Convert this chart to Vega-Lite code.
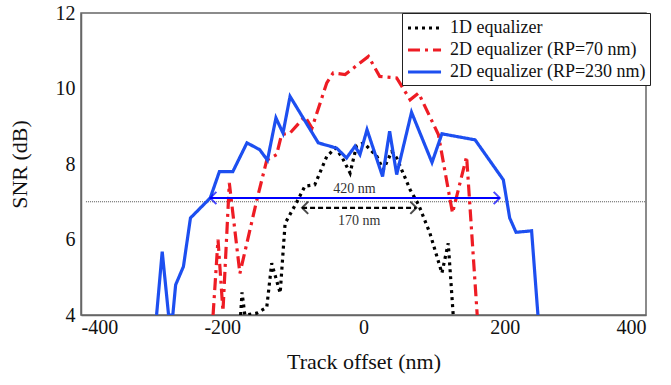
{
  "$schema": "https://vega.github.io/schema/vega-lite/v6.json",
  "autosize": "none",
  "width": 565,
  "height": 302,
  "padding": {"left": 81, "top": 13, "right": 25, "bottom": 70},
  "background": "white",
  "config": {
    "view": {"stroke": "#666", "strokeWidth": 1.5},
    "font": "Liberation Serif",
    "axis": {
      "labelFont": "Liberation Serif", "titleFont": "Liberation Serif",
      "labelColor": "#111", "titleColor": "#111", "titleFontWeight": "normal",
      "labelFontSize": 20, "titleFontSize": 22, "ticks": false, "grid": false,
      "domainColor": "#666", "domainWidth": 1.5
    },
    "legend": {"labelFont": "Liberation Serif", "labelFontSize": 18, "labelColor": "#111", "labelLimit": 0}
  },
  "datasets": {
    "snr": [
      {"s": "1D equalizer", "x": -174, "y": 4.0},
      {"s": "1D equalizer", "x": -172, "y": 4.6},
      {"s": "1D equalizer", "x": -168, "y": 4.0},
      {"s": "1D equalizer", "x": -151, "y": 4.05},
      {"s": "1D equalizer", "x": -137, "y": 4.2},
      {"s": "1D equalizer", "x": -130, "y": 5.37},
      {"s": "1D equalizer", "x": -118, "y": 4.58},
      {"s": "1D equalizer", "x": -111, "y": 6.43},
      {"s": "1D equalizer", "x": -95, "y": 6.97},
      {"s": "1D equalizer", "x": -83, "y": 7.41},
      {"s": "1D equalizer", "x": -69, "y": 7.45},
      {"s": "1D equalizer", "x": -52, "y": 8.2},
      {"s": "1D equalizer", "x": -40, "y": 8.42},
      {"s": "1D equalizer", "x": -31, "y": 8.2},
      {"s": "1D equalizer", "x": -19, "y": 7.76},
      {"s": "1D equalizer", "x": -10, "y": 8.47},
      {"s": "1D equalizer", "x": 0, "y": 8.56},
      {"s": "1D equalizer", "x": 19, "y": 8.2},
      {"s": "1D equalizer", "x": 28, "y": 7.85},
      {"s": "1D equalizer", "x": 40, "y": 8.33},
      {"s": "1D equalizer", "x": 47, "y": 8.16},
      {"s": "1D equalizer", "x": 66, "y": 7.32},
      {"s": "1D equalizer", "x": 78, "y": 6.92},
      {"s": "1D equalizer", "x": 94, "y": 6.17},
      {"s": "1D equalizer", "x": 111, "y": 5.11},
      {"s": "1D equalizer", "x": 120, "y": 5.9},
      {"s": "1D equalizer", "x": 127, "y": 4.0},
      {"s": "2D equalizer (RP=70 nm)", "x": -213, "y": 4.0},
      {"s": "2D equalizer (RP=70 nm)", "x": -206, "y": 6.0},
      {"s": "2D equalizer (RP=70 nm)", "x": -199, "y": 4.1},
      {"s": "2D equalizer (RP=70 nm)", "x": -190, "y": 7.5},
      {"s": "2D equalizer (RP=70 nm)", "x": -175, "y": 5.1},
      {"s": "2D equalizer (RP=70 nm)", "x": -151, "y": 7.05},
      {"s": "2D equalizer (RP=70 nm)", "x": -137, "y": 8.1},
      {"s": "2D equalizer (RP=70 nm)", "x": -123, "y": 8.25},
      {"s": "2D equalizer (RP=70 nm)", "x": -116, "y": 8.78},
      {"s": "2D equalizer (RP=70 nm)", "x": -104, "y": 8.82},
      {"s": "2D equalizer (RP=70 nm)", "x": -83, "y": 9.26},
      {"s": "2D equalizer (RP=70 nm)", "x": -73, "y": 8.95},
      {"s": "2D equalizer (RP=70 nm)", "x": -52, "y": 10.15},
      {"s": "2D equalizer (RP=70 nm)", "x": -43, "y": 10.41},
      {"s": "2D equalizer (RP=70 nm)", "x": -26, "y": 10.37},
      {"s": "2D equalizer (RP=70 nm)", "x": 7, "y": 10.85},
      {"s": "2D equalizer (RP=70 nm)", "x": 23, "y": 10.32},
      {"s": "2D equalizer (RP=70 nm)", "x": 47, "y": 10.28},
      {"s": "2D equalizer (RP=70 nm)", "x": 66, "y": 9.7},
      {"s": "2D equalizer (RP=70 nm)", "x": 78, "y": 9.88},
      {"s": "2D equalizer (RP=70 nm)", "x": 106, "y": 8.78},
      {"s": "2D equalizer (RP=70 nm)", "x": 126, "y": 6.7},
      {"s": "2D equalizer (RP=70 nm)", "x": 146, "y": 8.2},
      {"s": "2D equalizer (RP=70 nm)", "x": 161, "y": 4.0},
      {"s": "2D equalizer (RP=230 nm)", "x": -293, "y": 4.0},
      {"s": "2D equalizer (RP=230 nm)", "x": -285, "y": 5.68},
      {"s": "2D equalizer (RP=230 nm)", "x": -276, "y": 4.0},
      {"s": "2D equalizer (RP=230 nm)", "x": -270, "y": 4.0},
      {"s": "2D equalizer (RP=230 nm)", "x": -266, "y": 4.8},
      {"s": "2D equalizer (RP=230 nm)", "x": -255, "y": 5.28},
      {"s": "2D equalizer (RP=230 nm)", "x": -245, "y": 6.57},
      {"s": "2D equalizer (RP=230 nm)", "x": -217, "y": 7.1},
      {"s": "2D equalizer (RP=230 nm)", "x": -204, "y": 7.8},
      {"s": "2D equalizer (RP=230 nm)", "x": -185, "y": 7.8},
      {"s": "2D equalizer (RP=230 nm)", "x": -165, "y": 8.56},
      {"s": "2D equalizer (RP=230 nm)", "x": -147, "y": 8.38},
      {"s": "2D equalizer (RP=230 nm)", "x": -136, "y": 8.1},
      {"s": "2D equalizer (RP=230 nm)", "x": -124, "y": 9.22},
      {"s": "2D equalizer (RP=230 nm)", "x": -114, "y": 8.82},
      {"s": "2D equalizer (RP=230 nm)", "x": -104, "y": 9.79},
      {"s": "2D equalizer (RP=230 nm)", "x": -64, "y": 8.56},
      {"s": "2D equalizer (RP=230 nm)", "x": -38, "y": 8.42},
      {"s": "2D equalizer (RP=230 nm)", "x": -24, "y": 8.16},
      {"s": "2D equalizer (RP=230 nm)", "x": -12, "y": 8.47},
      {"s": "2D equalizer (RP=230 nm)", "x": -5, "y": 8.25},
      {"s": "2D equalizer (RP=230 nm)", "x": 5, "y": 8.91},
      {"s": "2D equalizer (RP=230 nm)", "x": 27, "y": 7.67},
      {"s": "2D equalizer (RP=230 nm)", "x": 37, "y": 8.87},
      {"s": "2D equalizer (RP=230 nm)", "x": 47, "y": 7.72},
      {"s": "2D equalizer (RP=230 nm)", "x": 68, "y": 9.37},
      {"s": "2D equalizer (RP=230 nm)", "x": 97, "y": 8.04},
      {"s": "2D equalizer (RP=230 nm)", "x": 111, "y": 8.8},
      {"s": "2D equalizer (RP=230 nm)", "x": 158, "y": 8.64},
      {"s": "2D equalizer (RP=230 nm)", "x": 198, "y": 7.58},
      {"s": "2D equalizer (RP=230 nm)", "x": 207, "y": 6.57},
      {"s": "2D equalizer (RP=230 nm)", "x": 216, "y": 6.19},
      {"s": "2D equalizer (RP=230 nm)", "x": 238, "y": 6.23},
      {"s": "2D equalizer (RP=230 nm)", "x": 247, "y": 4.0}
    ],
    "refline": [{"x": -393, "x2": 400, "y": 7.0}],
    "arrows": [
      {"a": "blue", "x": -217, "x2": 193, "y": 7.1},
      {"a": "black", "x": -87, "x2": 75, "y": 6.84}
    ],
    "labels": [
      {"t": "420 nm", "x": -13, "y": 7.33},
      {"t": "170 nm", "x": -6, "y": 6.5}
    ]
  },
  "encoding": {},
  "layer": [
    {
      "data": {"name": "refline"},
      "mark": {"type": "rule", "color": "#555", "strokeWidth": 1, "strokeDash": [1, 1]},
      "encoding": {
        "x": {"field": "x", "type": "quantitative", "scale": {"domain": [-400, 400]}},
        "x2": {"field": "x2"},
        "y": {"field": "y", "type": "quantitative", "scale": {"domain": [4, 12]}}
      }
    },
    {
      "data": {"name": "snr"},
      "mark": {"type": "line", "strokeWidth": 3.2, "clip": true},
      "encoding": {
        "x": {"field": "x", "type": "quantitative", "scale": {"domain": [-400, 400]},
              "axis": {"values": [-400, -200, 0, 200, 400], "labelExpr": "'' + datum.value", "title": "Track offset (nm)", "labelPadding": 2, "titlePadding": 14}},
        "y": {"field": "y", "type": "quantitative", "scale": {"domain": [4, 12]},
              "axis": {"values": [4, 6, 8, 10, 12], "title": "SNR (dB)", "labelPadding": 6, "titlePadding": 24}},
        "color": {"field": "s", "type": "nominal",
                  "scale": {"domain": ["1D equalizer", "2D equalizer (RP=70 nm)", "2D equalizer (RP=230 nm)"], "range": ["#000000", "#ee1c24", "#1d4ff0"]},
                  "legend": {"title": null, "orient": "none", "legendX": 321, "legendY": 0, "symbolType": "M-1,0L2.67,0", "symbolSize": 324, "symbolStrokeWidth": 3.2, "strokeColor": "#222", "fillColor": "white", "padding": 4, "rowPadding": 2, "labelOffset": 22}},
        "strokeDash": {"field": "s", "type": "nominal",
                       "scale": {"domain": ["1D equalizer", "2D equalizer (RP=70 nm)", "2D equalizer (RP=230 nm)"], "range": [[3, 4], [12, 5, 3, 5], [1, 0]]},
                       "legend": {"title": null}}
      }
    },
    {
      "data": {"name": "arrows"},
      "mark": {"type": "rule", "strokeWidth": 2.2},
      "encoding": {
        "x": {"field": "x", "type": "quantitative"},
        "x2": {"field": "x2"},
        "y": {"field": "y", "type": "quantitative"},
        "color": {"field": "a", "type": "nominal", "scale": null, "legend": null},
        "strokeDash": {"condition": {"test": "datum.a === 'black'", "value": [5, 3]}, "value": [1, 0]}
      }
    },
    {
      "data": {"name": "arrows"},
      "mark": {"type": "point", "shape": "M1,-1L0,0L1,1", "size": 150, "strokeWidth": 2, "filled": false},
      "encoding": {
        "x": {"field": "x", "type": "quantitative"},
        "y": {"field": "y", "type": "quantitative"},
        "stroke": {"field": "a", "type": "nominal", "scale": null, "legend": null}
      }
    },
    {
      "data": {"name": "arrows"},
      "mark": {"type": "point", "shape": "M-1,-1L0,0L-1,1", "size": 150, "strokeWidth": 2, "filled": false},
      "encoding": {
        "x": {"field": "x2", "type": "quantitative"},
        "y": {"field": "y", "type": "quantitative"},
        "stroke": {"field": "a", "type": "nominal", "scale": null, "legend": null}
      }
    },
    {
      "data": {"name": "labels"},
      "mark": {"type": "text", "font": "Liberation Serif", "fontSize": 14, "color": "#333"},
      "encoding": {
        "x": {"field": "x", "type": "quantitative"},
        "y": {"field": "y", "type": "quantitative"},
        "text": {"field": "t"}
      }
    }
  ]
}
